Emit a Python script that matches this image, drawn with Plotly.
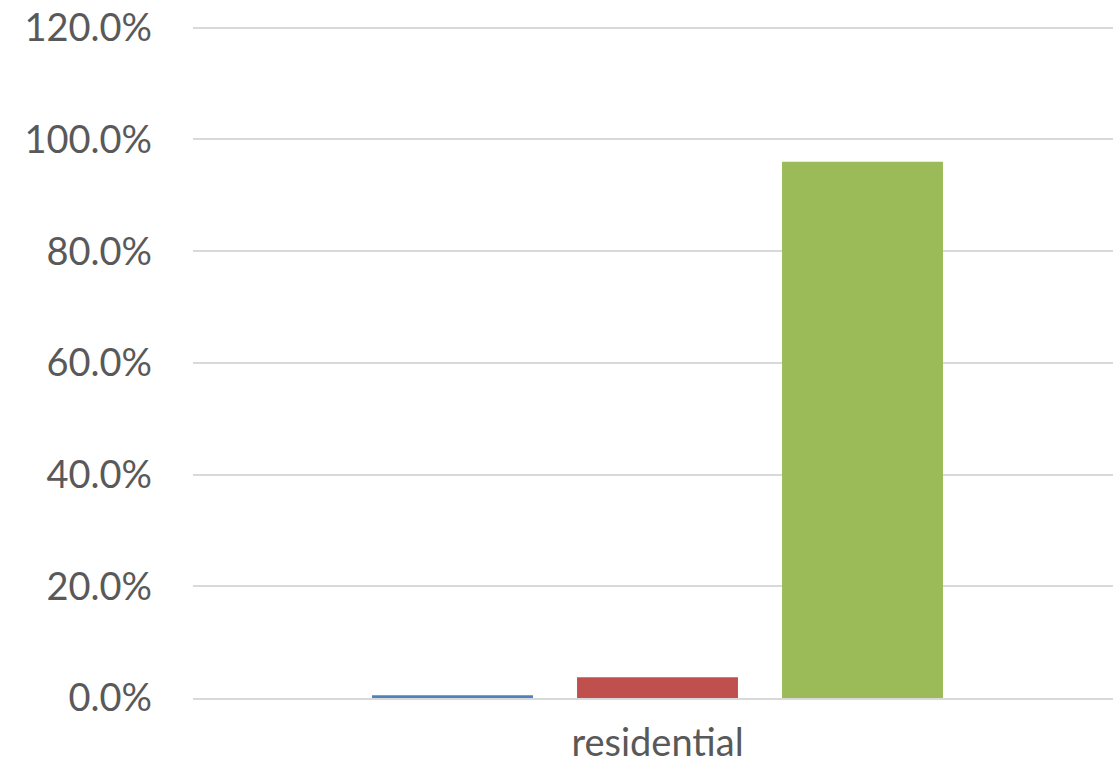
import plotly.graph_objects as go

categories = ["residential"]
series_names = ["Series 1", "Series 2", "Series 3"]
series_values = [[0.5], [3.7], [96.0]]
series_colors = ["#4f81bd", "#c0504d", "#9bbb59"]

fig = go.Figure()
for name, vals, col in zip(series_names, series_values, series_colors):
    fig.add_trace(go.Bar(x=categories, y=[v / 100 for v in vals], name=name,
                         marker=dict(color=col, line=dict(width=0))))

fig.update_layout(
    width=1113, height=773,
    margin=dict(l=193, r=0, t=25, b=75),
    paper_bgcolor="white", plot_bgcolor="white",
    barmode="group", bargap=0.338, bargroupgap=0.215,
    showlegend=False,
    font=dict(family="Lato, Liberation Sans, sans-serif", size=38, color="#595959"),
)
fig.update_yaxes(range=[0, 1.205], dtick=0.2, tickformat=".1%",
                 gridcolor="#d9d9d9", gridwidth=2, zeroline=False,
                 showline=False, ticklabelstandoff=40, automargin=False,
                 ticklabeloverflow="allow")
fig.update_xaxes(range=[-0.5, 0.4903], showline=True, linecolor="#d9d9d9",
                 linewidth=2, ticks="", ticklabelstandoff=10, automargin=False,
                 ticklabeloverflow="allow")

# drop the browser's default 8px body margin so the figure fills the window
fig.write_html("out.html", config={"displayModeBar": False},
               post_script="document.body.style.margin='0';")
